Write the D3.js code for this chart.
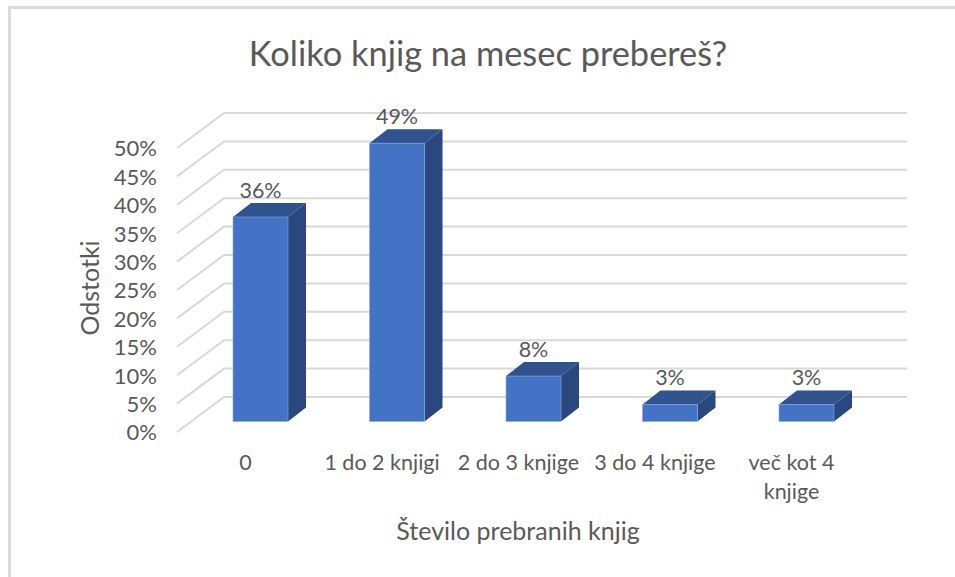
<!DOCTYPE html>
<html>
<head>
<meta charset="utf-8">
<script src="https://cdn.jsdelivr.net/npm/d3@7"></script>
<style>
  html, body { margin: 0; padding: 0; background: #fff; }
  svg { display: block; }
  text { font-family: Lato, "Open Sans", sans-serif; fill: #595959; }
</style>
</head>
<body>
<svg id="chart" width="955" height="577"></svg>
<script>
const categories = ['0', '1 do 2 knjigi', '2 do 3 knjige', '3 do 4 knjige', 'več kot 4\nknjige'];
const values = [36, 49, 8, 3, 3];
const percentTicks = [0, 5, 10, 15, 20, 25, 30, 35, 40, 45, 50];

const titleText = 'Koliko knjig na mesec prebereš?';
const xTitleText = 'Število prebranih knjig';
const yTitleText = 'Odstotki';

const svg = d3.select('#chart');

// frame of the screenshot, only left and top are visible
svg.append('path')
  .attr('d', 'M9.5,577V7.5H955')
  .attr('fill', 'none')
  .attr('stroke', '#dcdcdc')
  .attr('stroke-width', 3);

// front plane scales
const y = d3.scaleLinear().domain([0, 50]).range([432, 148]);
const x = d3.scaleBand().domain(categories).range([192.25, 874.75]).paddingInner(0.597).paddingOuter(0.2985);

// shift from the front of the floor to the back wall
const wallDx = 47, wallDy = -35;
const wallRight = 907;
// bar sits a bit behind the front edge of the floor
const barLift = 10.5, barDx = 18, barDy = -14;

const line = d3.line();

// gridlines
let grid = svg.append('g').attr('stroke', '#d9d9d9').attr('stroke-width', 2).attr('fill', 'none');
percentTicks.forEach((t) => {
  grid.append('path').attr('d', line([
    [177, y(t)],
    [177 + wallDx, y(t) + wallDy],
    [wallRight, y(t) + wallDy],
  ]));
});

// bars
let bars = svg.append('g').selectAll('g')
  .data(categories.map((c, i) => ({ c, v: values[i] })))
  .enter()
  .append('g');

const frontBox = (d) => ({
  x0: x(d.c),
  x1: x(d.c) + x.bandwidth(),
  y0: y(0) - barLift,
  y1: y(d.v) - barLift,
});

bars.append('path')
  .attr('fill', '#2a477f')
  .attr('d', (d) => {
    let b = frontBox(d);
    return line([[b.x1, b.y0], [b.x1 + barDx, b.y0 + barDy], [b.x1 + barDx, b.y1 + barDy], [b.x1, b.y1]]) + 'Z';
  });

bars.append('path')
  .attr('fill', '#30528f')
  .attr('d', (d) => {
    let b = frontBox(d);
    return line([[b.x0, b.y1], [b.x0 + barDx, b.y1 + barDy], [b.x1 + barDx, b.y1 + barDy], [b.x1, b.y1]]) + 'Z';
  });

bars.append('rect')
  .attr('fill', '#4472c4')
  .attr('stroke', '#8ea9db')
  .attr('stroke-width', 0.6)
  .attr('x', (d) => frontBox(d).x0)
  .attr('y', (d) => frontBox(d).y1)
  .attr('width', x.bandwidth())
  .attr('height', (d) => frontBox(d).y0 - frontBox(d).y1);

// data labels
bars.append('text')
  .attr('x', (d) => x(d.c) + x.bandwidth() / 2)
  .attr('y', (d) => y(d.v) - barLift + barDy - 5)
  .attr('text-anchor', 'middle')
  .attr('font-size', 21.5)
  .text((d) => `${d.v}%`);

// y axis
let yAxis = svg.append('g')
  .attr('transform', 'translate(157,0)')
  .call(d3.axisLeft(y).tickValues(percentTicks).tickSize(0).tickFormat((d) => `${d}%`));
yAxis.select('.domain').remove();
yAxis.selectAll('text')
  .attr('font-size', 22)
  .attr('dy', '0.36em')
  .attr('x', 0)
  .style('font-family', 'Lato, "Open Sans", sans-serif');

// x axis, labels can have two lines
let xAxis = svg.append('g')
  .attr('transform', 'translate(-15,0)')
  .call(d3.axisBottom(x).tickSize(0).tickFormat(''));
xAxis.select('.domain').remove();
xAxis.selectAll('.tick').each(function (c) {
  let label = d3.select(this).select('text')
    .attr('y', 470)
    .attr('dy', 0)
    .attr('font-size', 21.5)
    .style('font-family', 'Lato, "Open Sans", sans-serif');
  c.split('\n').forEach((part, i) => {
    label.append('tspan').attr('x', 0).attr('y', 470 + i * 29).text(part);
  });
});

// titles
svg.append('text')
  .attr('x', 488).attr('y', 66)
  .attr('text-anchor', 'middle')
  .attr('font-size', 34.4)
  .text(titleText);

svg.append('text')
  .attr('x', 518).attr('y', 540)
  .attr('text-anchor', 'middle')
  .attr('font-size', 25)
  .text(xTitleText);

svg.append('text')
  .attr('transform', 'translate(99,288) rotate(-90)')
  .attr('text-anchor', 'middle')
  .attr('font-size', 25)
  .text(yTitleText);
</script>
</body>
</html>
